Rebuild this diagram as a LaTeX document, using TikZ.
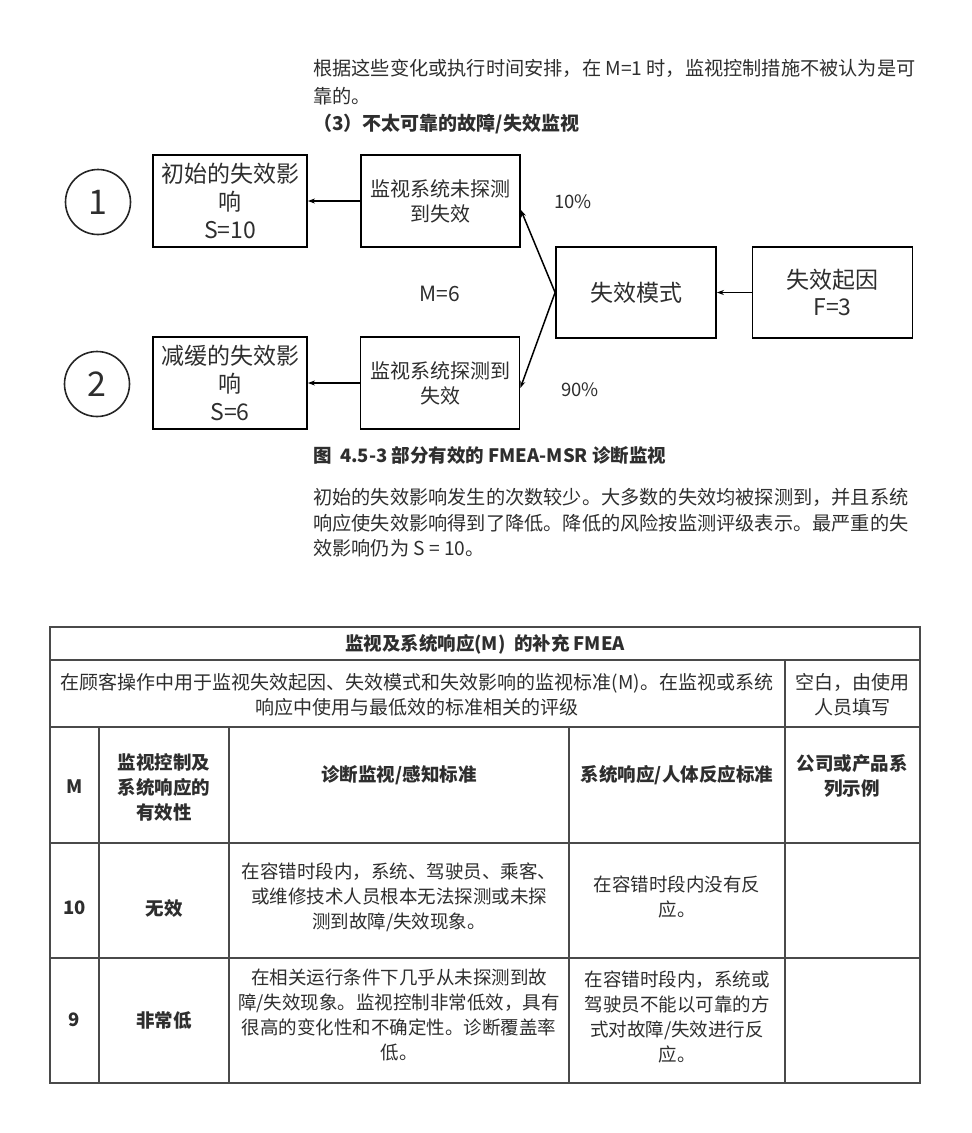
\documentclass[tikz,border=0pt]{standalone}
\usepackage{fontspec}
\setmainfont{Noto Sans CJK SC}
\usetikzlibrary{arrows.meta}
\definecolor{ink}{HTML}{2E2E2E}
\definecolor{rule}{HTML}{4A4A4A}
\newcommand{\fs}[2]{\fontsize{#1}{#2}\selectfont}
\begin{document}
\begin{tikzpicture}[x=1pt,y=-1pt,
  box/.style={draw=black, line width=1.8pt, align=center, text=ink, inner sep=0pt},
  effbox/.style={box, minimum width=154pt, minimum height=92pt, font=\fs{23}{28}},
  monbox/.style={box, minimum width=159pt, minimum height=92pt, font=\fs{20}{25}},
  bigbox/.style={box, minimum width=160pt, minimum height=91pt, font=\fs{23}{27}},
  num/.style={draw=black!85, line width=1.6pt, circle, minimum size=65pt, inner sep=0pt, font=\fs{34}{34}, text=ink},
  arr/.style={line width=1.5pt, -{Stealth[length=7pt,width=5pt]}},
  lbl/.style={text=ink, font=\fs{18.5}{20}, inner sep=0pt},
  para/.style={text=ink, font=\fs{19.2}{24}, anchor=west, inner sep=0pt},
  cell/.style={text=ink, font=\fs{18.5}{25}, align=center, inner sep=0pt},
  hcell/.style={cell, font=\fs{18.5}{25}\bfseries},
  grid/.style={draw=rule, line width=1.3pt}
]
\useasboundingbox[fill=white] (0,0) rectangle (972,1133);

% top paragraph
\node[para] (p1) at (313,68) {根据这些变化或执行时间安排，在 M=1 时，监视控制措施不被认为是可};
\node[para] (p2) at (313,96) {靠的。};
\node[para, font=\fs{19}{24}\bfseries] (p3) at (313,124) {（3）不太可靠的故障/失效监视};

% diagram
\node[num] (c1) at (98,202) {1};
\node[num] (c2) at (97,384) {2};
\node[effbox] (eff1) at (230,201) {初始的失效影\\响\\S=10};
\node[monbox] (mon1) at (440.5,201) {监视系统未探测\\到失效};
\node[bigbox] (mode) at (636,292.5) {失效模式};
\node[bigbox] (cause) at (832.5,292.5) {失效起因\\F=3};
\node[effbox] (eff2) at (230,383) {减缓的失效影\\响\\S=6};
\node[monbox] (mon2) at (440,383) {监视系统探测到\\失效};

\draw[arr] (cause.west) -- (mode.east);
\draw[arr] (mon1.west) -- (eff1.east);
\draw[arr] (mon2.west) -- (eff2.east);
\draw[arr] (mode.west) -- ([yshift=-9pt]mon1.east);
\draw[arr] (mode.west) -- ([yshift=-5pt]mon2.east);

\node[lbl] (l10) at (573,202) {10\%};
\node[lbl, font=\fs{21}{22}] (m6) at (440,294) {M=6};
\node[lbl] (l90) at (580,390) {90\%};

% caption
\node[para, font=\fs{18.5}{22}\bfseries] (cap) at (313,455) {图\ \ 4.5-3 部分有效的 FMEA-MSR 诊断监视};

% lower paragraph
\node[para] (q1) at (313,497) {初始的失效影响发生的次数较少。大多数的失效均被探测到，并且系统};
\node[para] (q2) at (313,523) {响应使失效影响得到了降低。降低的风险按监测评级表示。最严重的失};
\node[para] (q3) at (313,548) {效影响仍为 S = 10。};

% table grid
\draw[grid] (50,627) rectangle (920,1083);
\draw[grid] (50,660) -- (920,660);
\draw[grid] (50,727) -- (920,727);
\draw[grid] (50,843) -- (920,843);
\draw[grid] (50,958) -- (920,958);
\draw[grid] (785,660) -- (785,1083);
\draw[grid] (99,727) -- (99,1083);
\draw[grid] (229,727) -- (229,1083);
\draw[grid] (569,727) -- (569,1083);

% table text
\node[hcell] (t0) at (485,644) {监视及系统响应(M)\ \ 的补充 FMEA};
\node[cell, font=\fs{19}{25}] (t1) at (417,695) {在顾客操作中用于监视失效起因、失效模式和失效影响的监视标准(M)。在监视或系统\\响应中使用与最低效的标准相关的评级};
\node[cell, font=\fs{19}{25}] (t2) at (852,695) {空白，由使用\\人员填写};

\node[hcell] (hM) at (74.5,787) {M};
\node[hcell] (hE) at (164,787) {监视控制及\\系统响应的\\有效性};
\node[hcell] (hD) at (399,775) {诊断监视/感知标准};
\node[hcell] (hR) at (677,775) {系统响应/人体反应标准};
\node[hcell] (hC) at (852,776) {公司或产品系\\列示例};

\node[hcell] (r10m) at (74.5,908) {10};
\node[hcell] (r10e) at (164,908) {无效};
\node[cell] (r10d) at (399,897) {在容错时段内，系统、驾驶员、乘客、\\或维修技术人员根本无法探测或未探\\测到故障/失效现象。};
\node[cell] (r10r) at (677,897) {在容错时段内没有反\\应。};

\node[hcell] (r9m) at (74.5,1020) {9};
\node[hcell] (r9e) at (164,1020) {非常低};
\node[cell] (r9d) at (399,1015) {在相关运行条件下几乎从未探测到故\\障/失效现象。监视控制非常低效，具有\\很高的变化性和不确定性。诊断覆盖率\\低。};
\node[cell] (r9r) at (677,1017) {在容错时段内，系统或\\驾驶员不能以可靠的方\\式对故障/失效进行反\\应。};
\end{tikzpicture}
\end{document}
